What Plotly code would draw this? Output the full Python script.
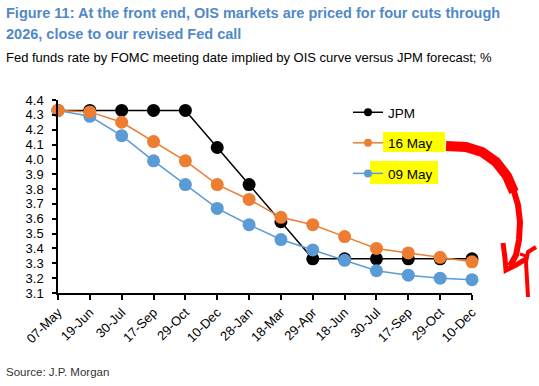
import plotly.graph_objects as go

# ---------------- data ----------------
dates = ["07-May", "19-Jun", "30-Jul", "17-Sep", "29-Oct", "10-Dec", "28-Jan",
         "18-Mar", "29-Apr", "18-Jun", "30-Jul", "17-Sep", "29-Oct", "10-Dec"]
jpm = [4.33, 4.33, 4.33, 4.33, 4.33, 4.08, 3.83, 3.58, 3.33, 3.33, 3.33, 3.33, 3.33, 3.33]
may16 = [4.33, 4.32, 4.25, 4.12, 3.99, 3.83, 3.73, 3.61, 3.56, 3.48, 3.40, 3.37, 3.34, 3.31]
may09 = [4.33, 4.29, 4.16, 3.99, 3.83, 3.67, 3.56, 3.46, 3.39, 3.32, 3.25, 3.22, 3.20, 3.19]
y_ticks = [3.1, 3.2, 3.3, 3.4, 3.5, 3.6, 3.7, 3.8, 3.9, 4.0, 4.1, 4.2, 4.3, 4.4]

names = ["JPM", "16 May", "09 May"]
colors = ["#000000", "#ED7D31", "#5B9BD5"]
series = [jpm, may16, may09]

FONT = "Liberation Sans, Arial, sans-serif"

W, H = 539, 386
L, R, T, B = 58, 472, 100, 293


def px(x, y):
    return (x - L) / (R - L), (B - y) / (B - T)


def path(points):
    s = ""
    for i, (x, y) in enumerate(points):
        a, b = px(x, y)
        s += ("M" if i == 0 else "L") + f"{a:.4f},{b:.4f} "
    return s.strip()


xs = list(range(len(dates)))
fig = go.Figure()
for idx in [0, 2, 1]:
    fig.add_trace(go.Scatter(
        x=xs, y=series[idx], mode="lines+markers", name=names[idx],
        line=dict(color=colors[idx], width=1.5),
        marker=dict(color=colors[idx], size=13),
        showlegend=False, cliponaxis=False))
# legend entries (smaller markers like the original)
for i in range(3):
    fig.add_trace(go.Scatter(
        x=[None], y=[None], mode="lines+markers", name=names[i],
        legendgroup=names[i],
        line=dict(color=colors[i], width=1.5),
        marker=dict(color=colors[i], size=8)))

shapes = []
# yellow highlights behind legend text
for (x0, y0, x1, y1) in [(383, 132, 445, 152), (370, 161, 438, 184)]:
    a0, b0 = px(x0, y1)
    a1, b1 = px(x1, y0)
    shapes.append(dict(type="rect", xref="paper", yref="paper", x0=a0, y0=b0, x1=a1, y1=b1,
                       fillcolor="#FFFF00", line=dict(width=0), layer="below"))
# hand-drawn red arrow
shapes.append(dict(type="path", xref="paper", yref="paper", layer="above",
                   path=path([(446, 146), (466, 147), (482, 152), (496, 162), (507, 176), (514, 192)]),
                   line=dict(color="#FF0000", width=10)))
shapes.append(dict(type="path", xref="paper", yref="paper", layer="above",
                   path=path([(513, 188), (518, 205), (520, 222), (519, 240), (516, 255), (510, 266)]),
                   line=dict(color="#FF0000", width=6)))
shapes.append(dict(type="path", xref="paper", yref="paper", layer="above",
                   path=path([(503, 243), (505, 258), (506, 270), (516, 265), (526, 259)]),
                   line=dict(color="#FF0000", width=5)))
shapes.append(dict(type="path", xref="paper", yref="paper", layer="above",
                   path=path([(528, 297), (527, 280), (526, 262), (528, 252), (536, 247)]),
                   line=dict(color="#FF0000", width=4)))
shapes.append(dict(type="path", xref="paper", yref="paper", layer="above",
                   path=path([(526, 256), (520, 254)]),
                   line=dict(color="#FF0000", width=3)))

annotations = []


def add_text(text, x, y, size, color, anchor="middle"):
    a, b = px(x, y)
    annotations.append(dict(xref="paper", yref="paper", x=a, y=b, xanchor="left", yanchor=anchor,
                            text=text, showarrow=False, align="left",
                            font=dict(family=FONT, size=size, color=color)))


TITLE_C = "#5289C7"
add_text("<b>Figure 11: At the front end, OIS markets are priced for four cuts through</b>", 4, 13, 14.5, TITLE_C)
add_text("<b>2026, close to our revised Fed call</b>", 4, 34, 14.5, TITLE_C)
add_text("Fed funds rate by FOMC meeting date implied by OIS curve versus JPM forecast; %", 4, 57.5, 13, "#000000")
add_text("Source: J.P. Morgan", 4, 372, 11.5, "#333333")

lx, ly = px(348, 97)
fig.update_layout(
    width=W, height=H,
    margin=dict(l=L, r=W - R, t=T, b=H - B, pad=0),
    plot_bgcolor="white", paper_bgcolor="white",
    font=dict(family=FONT, size=13, color="#000000"),
    showlegend=True,
    legend=dict(x=lx, y=ly, xanchor="left", yanchor="top", bgcolor="rgba(0,0,0,0)",
                font=dict(family=FONT, size=13.5, color="#000000"),
                tracegroupgap=10, itemwidth=30),
    shapes=shapes, annotations=annotations,
    xaxis=dict(range=[0, 13], tickmode="array", tickvals=xs, ticktext=dates,
               tickangle=-45, showgrid=False, zeroline=False, automargin=False,
               showline=True, linecolor="#000000", linewidth=1.5,
               ticks="outside", ticklen=5, tickcolor="#000000", tickwidth=1.5,
               tickfont=dict(family=FONT, size=13, color="#000000")),
    yaxis=dict(range=[3.1, 4.4], tickmode="array", tickvals=y_ticks,
               ticktext=[f"{v:.1f}" for v in y_ticks],
               showgrid=False, zeroline=False, automargin=False,
               showline=True, linecolor="#000000", linewidth=1.5,
               ticks="outside", ticklen=4, tickcolor="#000000", tickwidth=1.5,
               ticklabelstandoff=6,
               tickfont=dict(family=FONT, size=13, color="#000000")),
)

fig.write_html("out.html", config={"displayModeBar": False},
               post_script="document.body.style.margin='0';")
